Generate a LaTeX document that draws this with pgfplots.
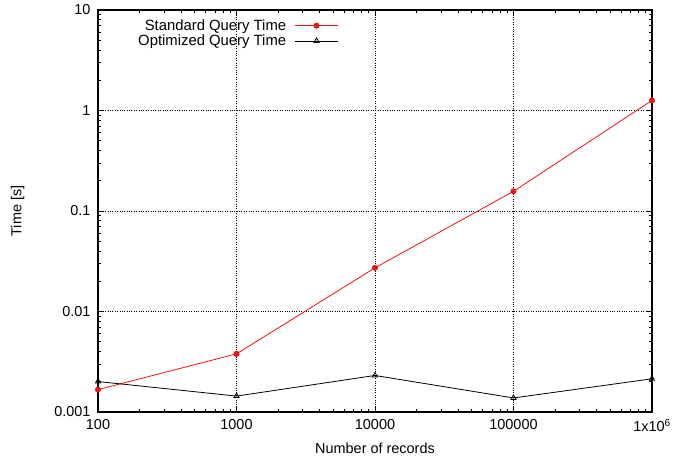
\documentclass[border=0pt]{standalone}
\usepackage{fontspec}
\setmainfont{Liberation Sans}
\usepackage{pgfplots}
\pgfplotsset{compat=1.18}

\definecolor{stdRed}{RGB}{240,20,20}

\begin{document}
\begin{tikzpicture}[font=\fontsize{14.5}{17}\selectfont]
\begin{loglogaxis}[
    scale only axis,
    width=554bp, height=402bp,
    xmin=100, xmax=1000000,
    ymin=0.001, ymax=10,
    xtick={100,1000,10000,100000,1000000},
    xticklabels={100,1000,10000,100000,1x10\textsuperscript{6}},
    minor xtick={200,300,400,500,600,700,800,900,2000,3000,4000,5000,6000,7000,8000,9000,20000,30000,40000,50000,60000,70000,80000,90000,200000,300000,400000,500000,600000,700000,800000,900000},
    ytick={0.001,0.01,0.1,1,10},
    yticklabels={0.001,0.01,0.1,1,10},
    minor ytick={0.002,0.003,0.004,0.005,0.006,0.007,0.008,0.009,0.02,0.03,0.04,0.05,0.06,0.07,0.08,0.09,0.2,0.3,0.4,0.5,0.6,0.7,0.8,0.9,2,3,4,5,6,7,8,9},
    tick align=inside,
    major tick length=6bp,
    minor tick length=3bp,
    tick style={black, line width=0.8bp},
    axis line style={line width=1.2bp},
    grid=major,
    major grid style={black, dotted, line width=0.6bp},
    xlabel={Number of records},
    ylabel={Time [s]},
    xlabel style={at={(axis description cs:0.5,0)}, anchor=center, yshift=-36bp},
    ylabel style={at={(axis description cs:-0.145,0.5)}, anchor=center, rotate=0},
    xticklabel style={yshift=-4bp},
    yticklabel style={xshift=-4bp},
    legend style={at={(axis description cs:0.434,0.942)}, anchor=east, draw=none, fill=none,
        inner sep=0pt, outer sep=0pt, row sep=0bp, column sep=7bp,
        font=\fontsize{14.9}{16}\selectfont,
        nodes={font=\fontsize{14.9}{16}\selectfont, inner sep=1.5bp}},
    legend cell align=right,
    legend plot pos=right,
    legend image code/.code={
        \draw[mark repeat=2, mark phase=2] plot coordinates {(0bp,0bp) (21.5bp,0bp) (43bp,0bp)};
    },
    clip=false,
]
\addplot[stdRed, line width=0.8bp, mark=*, mark size=2.6bp, mark options={fill=stdRed, draw=stdRed}] coordinates {
    (100, 0.00167)
    (1000, 0.00379)
    (10000, 0.0272)
    (100000, 0.157)
    (1000000, 1.26)
};
\addlegendentry{Standard Query Time}
\addplot[black, line width=0.8bp, mark=triangle, mark size=3bp, mark options={black, line width=0.8bp}] coordinates {
    (100, 0.00201)
    (1000, 0.00144)
    (10000, 0.00231)
    (100000, 0.00138)
    (1000000, 0.00214)
};
\addlegendentry{Optimized Query Time}
\end{loglogaxis}
\path (current axis.south west) ++(-98bp,-47bp) coordinate (bbA);
\path (current axis.north east) ++(30bp,10bp) coordinate (bbB);
\path (bbA) (bbB);
\end{tikzpicture}
\end{document}
